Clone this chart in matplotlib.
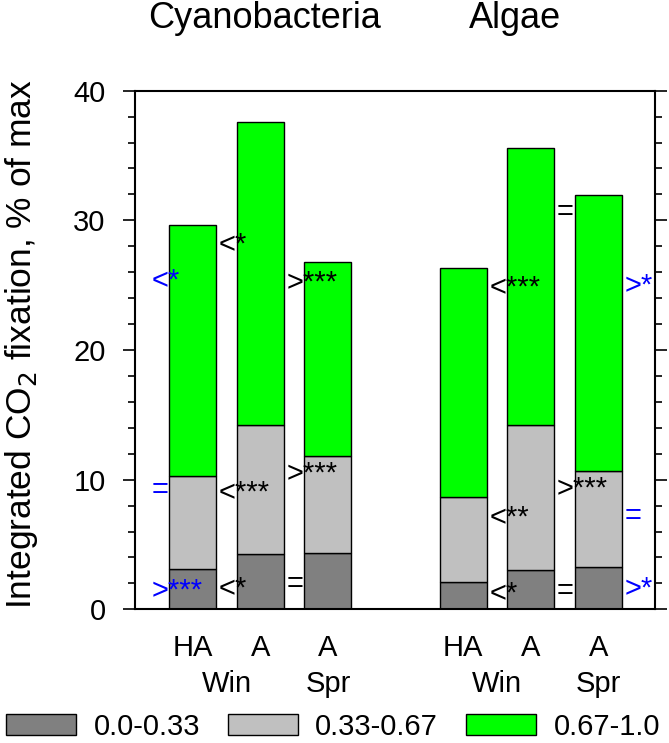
import matplotlib
matplotlib.use("Agg")
import matplotlib.pyplot as plt
from matplotlib.patches import Patch
from matplotlib.ticker import MultipleLocator

plt.rcParams['font.family'] = ['Liberation Sans', 'DejaVu Sans']

# Balken: Cyanobacteria (HA Win, A Win, A Spr), Algae (HA Win, A Win, A Spr)
group_names = ["Cyanobacteria", "Algae"]
bar_labels = ["HA", "A", "A", "HA", "A", "A"]
season_labels = ["Win", "Spr"]

# Anteile je Klasse (gestapelt), % of max
low = [3.1, 4.3, 4.35, 2.1, 3.05, 3.25]       # 0.0-0.33
mid = [7.2, 9.9, 7.5, 6.55, 11.15, 7.45]      # 0.33-0.67
high = [19.35, 23.4, 14.9, 17.65, 21.4, 21.25]  # 0.67-1.0

class_labels = ["0.0-0.33", "0.33-0.67", "0.67-1.0"]
class_colors = ["#808080", "#C0C0C0", "#00FF00"]

# Signifikanz-Marker: Text, Balken-Index, Seite, y-Wert, Farbe
sig_text = ["<*", "=", ">***",
            "<*", "<***", "<*",
            ">***", ">***", "=",
            "<***", "<**", "<*",
            "=", ">***", "=",
            ">*", "=", ">*"]
sig_bar = [0, 0, 0, 0, 0, 0, 1, 1, 1, 3, 3, 3, 4, 4, 4, 5, 5, 5]
sig_side = ["L", "L", "L"] + ["R"] * 15
sig_y = [25.5, 9.33, 1.62,
         28.3, 9.2, 1.74,
         25.4, 10.6, 2.05,
         25.0, 7.27, 1.36,
         30.75, 9.46, 1.54,
         25.1, 7.35, 1.74]
sig_color = ["blue"] * 3 + ["black"] * 12 + ["blue"] * 3

x_pos = [0, 1, 2, 4, 5, 6]
width = 0.695
fs = 21
sig_fs = 21

fig = plt.figure(figsize=(6.69, 7.43), dpi=100)
ax = fig.add_axes([135 / 669, (743 - 609.3) / 743,
                   (655.3 - 135) / 669, (609.3 - 90.7) / 743])

bottoms = [0.0] * len(x_pos)
for vals, color in zip([low, mid, high], class_colors):
    ax.bar(x_pos, vals, width=width, bottom=bottoms, color=color,
           edgecolor="black", linewidth=1.0, zorder=2)
    bottoms = [b + v for b, v in zip(bottoms, vals)]

# Marker neben den Balken
for t, i, side, y, c in zip(sig_text, sig_bar, sig_side, sig_y, sig_color):
    x = x_pos[i] + (-0.61 if side == "L" else 0.385)
    ax.annotate(t, xy=(x, y), xytext=(0, -0.335 * sig_fs), textcoords="offset points",
                ha="left", va="baseline", fontsize=sig_fs, color=c, zorder=3)

ax.set_xlim(-0.854, 6.843)
ax.set_ylim(0, 40)
ax.set_yticks([0, 10, 20, 30, 40])
ax.yaxis.set_minor_locator(MultipleLocator(2))
ax.tick_params(axis="y", which="major", direction="out", length=8.6, width=1.2,
               labelsize=fs, pad=12.5, right=True)
ax.tick_params(axis="y", which="minor", direction="out", length=5, width=1.2,
               right=True)
ax.set_xticks(x_pos, bar_labels)
ax.tick_params(axis="x", length=0, pad=18, labelsize=fs)
for s in ax.spines.values():
    s.set_linewidth(1.5)

# Jahreszeit unter den Balken
for g in range(2):
    xs = x_pos[3 * g:3 * g + 3]
    for lab, xx in zip(season_labels, [(xs[0] + xs[1]) / 2, xs[2]]):
        ax.annotate(lab, xy=(xx, 0), xycoords=("data", "axes fraction"),
                    xytext=(0, -43.5), textcoords="offset points",
                    ha="center", va="top", fontsize=fs)

ax.set_ylabel("Integrated CO$_2$ fixation, % of max", fontsize=25.5)
ax.yaxis.set_label_coords(-0.183, 0.512)

fig.text(265 / 669, 1 - 28.3 / 743, group_names[0], ha="center", va="baseline", fontsize=26)
fig.text(515 / 669, 1 - 28.3 / 743, group_names[1], ha="center", va="baseline", fontsize=26)

handles = [Patch(facecolor=c, edgecolor="black", linewidth=1.0, label=l)
           for c, l in zip(class_colors, class_labels)]
fig.legend(handles=handles, loc="center", bbox_to_anchor=(333 / 669, 1 - 727 / 743),
           ncol=3, frameon=False, fontsize=21, handlelength=2.4, handleheight=0.72,
           handletextpad=0.6, columnspacing=0.95, borderpad=0, borderaxespad=0)

fig.savefig("out.png", dpi=100)
